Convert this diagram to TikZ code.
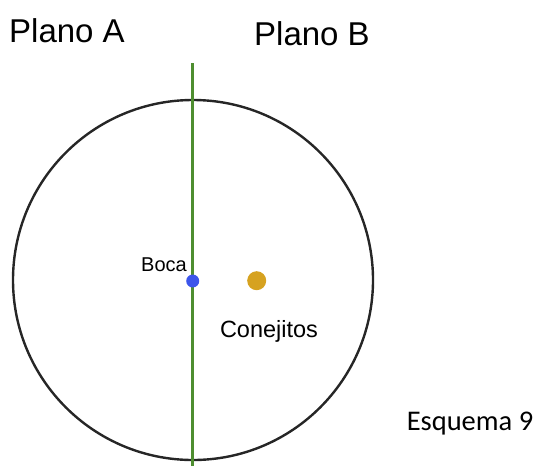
\documentclass[tikz,border=0pt]{standalone}
\usepackage{fontspec}
\setmainfont{Liberation Sans}
\newfontfamily\calib{Carlito}
\definecolor{linegreen}{RGB}{78,142,48}
\definecolor{dotblue}{RGB}{60,85,235}
\definecolor{dotorange}{RGB}{214,162,32}
\begin{document}
\begin{tikzpicture}[x=1pt,y=-1pt,
  lbl/.style={inner sep=0pt,anchor=base},
  dot/.style={circle,inner sep=0pt,draw=none}]
\useasboundingbox (0,0) rectangle (537,466);
\node[draw=black!85,line width=2.4pt,circle,minimum size=360pt,inner sep=0pt] (circ) at (193,280) {};
\coordinate (gtop) at (192.5,63);
\coordinate (gbot) at (192.5,466);
\draw[linegreen,line width=3.6pt] (gtop) -- (gbot);
\node[dot,fill=dotblue,minimum size=13pt] (boca) at (192.7,281) {};
\node[dot,fill=dotorange,minimum size=19pt] (conej) at (256.7,280.7) {};
\node[lbl,font=\fontsize{33}{36}\selectfont] (pa) at (67,42) {Plano A};
\node[lbl,font=\fontsize{33}{36}\selectfont] (pb) at (312,45) {Plano B};
\node[lbl,font=\fontsize{20}{22}\selectfont] (tb) at (164,271) {Boca};
\node[lbl,font=\fontsize{23.5}{26}\selectfont] (tc) at (269,337) {Conejitos};
\node[lbl,font=\calib\fontsize{28.5}{32}\selectfont] (te) at (470,430) {Esquema 9};
\end{tikzpicture}
\end{document}
